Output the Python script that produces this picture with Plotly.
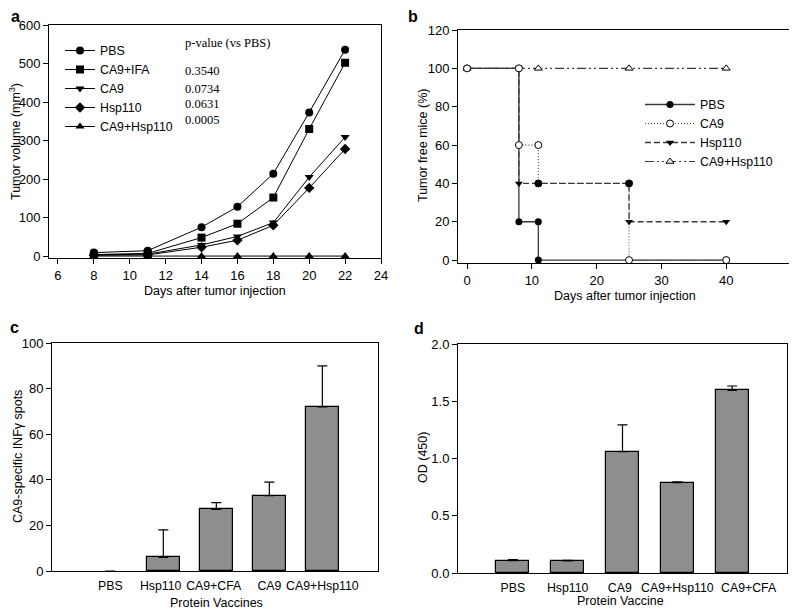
import plotly.graph_objects as go

# ---------- Panel a: tumor volume ----------
days_a = [8, 11, 14, 16, 18, 20, 22]
vol_pbs = [9, 14, 75, 128, 214, 373, 536]
vol_ca9_ifa = [4, 7, 48, 84, 152, 330, 502]
vol_ca9 = [3, 5, 29, 51, 87, 205, 309]
vol_hsp110 = [2, 3, 23, 41, 80, 177, 278]
vol_ca9_hsp110 = [0, 0, 0, 0, 0, 0, 0]
pvalue_labels = ["p-value (vs PBS)", "0.3540", "0.0734", "0.0631", "0.0005"]

# ---------- Panel b: tumor free mice (step curves) ----------
b_pbs_x = [0, 8, 8, 11, 11, 40]
b_pbs_y = [100, 100, 20, 20, 0, 0]
b_ca9_x = [0, 8, 8, 11, 11, 25, 25, 40]
b_ca9_y = [100, 100, 60, 60, 40, 40, 0, 0]
b_hsp_x = [0, 8, 8, 25, 25, 40]
b_hsp_y = [100, 100, 40, 40, 20, 20]
b_combo_x = [0, 11, 25, 40]
b_combo_y = [100, 100, 100, 100]

# ---------- Panel c: ELISPOT ----------
c_cats = ["PBS", "Hsp110", "CA9+CFA", "CA9", "CA9+Hsp110"]
c_vals = [0, 6, 27, 33, 72]
c_err = [None, 12, 3, 6, 18]

# ---------- Panel d: OD ----------
d_cats = ["PBS", "Hsp110", "CA9", "CA9+Hsp110", "CA9+CFA"]
d_vals = [0.108, 0.105, 1.06, 0.789, 1.595]
d_err = [0.008, 0.005, 0.233, 0.006, 0.038]

# page body has an 8px margin; the figure is sized to fill the rest of the window
OFF = 8
W, H = 797 - OFF, 613 - OFF
FONT = "Liberation Sans, Arial, sans-serif"
SERIF = "Liberation Serif, Times New Roman, serif"

def px_x(p):
    return (p - OFF) / W

def px_y(p):
    return 1 - (p - OFF) / H

fig = go.Figure()

# Panel a traces
a_series = [
    ("PBS", vol_pbs, "circle"),
    ("CA9+IFA", vol_ca9_ifa, "square"),
    ("CA9", vol_ca9, "triangle-down"),
    ("Hsp110", vol_hsp110, "diamond"),
    ("CA9+Hsp110", vol_ca9_hsp110, "triangle-up"),
]
for name, ys, sym in a_series:
    fig.add_trace(go.Scatter(
        x=days_a, y=ys, name=name, mode="lines+markers",
        line=dict(color="black", width=1),
        marker=dict(symbol=sym, size=8, color="black"),
        xaxis="x", yaxis="y", legend="legend"))

# Panel b traces
line_gray = "#3a3a3a"
fig.add_trace(go.Scatter(
    x=b_pbs_x, y=b_pbs_y, name="PBS", mode="lines+markers",
    line=dict(color=line_gray, width=1.3),
    marker=dict(symbol="circle", size=7, color="black"),
    xaxis="x2", yaxis="y2", legend="legend2", legendrank=1))
fig.add_trace(go.Scatter(
    x=b_hsp_x, y=b_hsp_y, name="Hsp110", mode="lines+markers",
    line=dict(color=line_gray, width=1.3, dash="6px,3px"),
    marker=dict(symbol="triangle-down", size=7, color="black"),
    xaxis="x2", yaxis="y2", legend="legend2", legendrank=3))
fig.add_trace(go.Scatter(
    x=b_combo_x, y=b_combo_y, name="CA9+Hsp110", mode="lines+markers",
    line=dict(color=line_gray, width=1.2, dash="9px,3px,2px,3px,2px,3px"),
    marker=dict(symbol="triangle-up", size=7, color="white",
                line=dict(color="black", width=1)),
    xaxis="x2", yaxis="y2", legend="legend2", legendrank=4))
ca9_fill = ["white", "white", "white", "white", "black", "black", "white", "white"]
fig.add_trace(go.Scatter(
    x=b_ca9_x, y=b_ca9_y, name="CA9", mode="lines+markers",
    line=dict(color=line_gray, width=1, dash="1px,2px"),
    marker=dict(symbol="circle", size=7, color=ca9_fill,
                line=dict(color="black", width=1)),
    xaxis="x2", yaxis="y2", legend="legend2", legendrank=2))

# Panel c bars
bar_color = "#8e8e8e"
fig.add_trace(go.Bar(
    x=list(range(len(c_cats))), y=c_vals, width=0.62,
    marker=dict(color=bar_color,
                line=dict(color="black", width=[0 if v == 0 else 1.2 for v in c_vals])),
    error_y=dict(type="data", array=c_err, arrayminus=[0] * len(c_err),
                 symmetric=False, color="black", thickness=1.2, width=5),
    xaxis="x3", yaxis="y3", showlegend=False))

# Panel d bars
fig.add_trace(go.Bar(
    x=list(range(len(d_cats))), y=d_vals, width=0.6,
    marker=dict(color=bar_color, line=dict(color="black", width=1.2)),
    error_y=dict(type="data", array=d_err, arrayminus=[0] * len(d_err),
                 symmetric=False, color="black", thickness=1.2, width=5),
    xaxis="x4", yaxis="y4", showlegend=False))

axis_common = dict(showline=True, mirror=True, linecolor="black", linewidth=1,
                   showgrid=False, zeroline=False, ticks="outside", ticklen=5,
                   tickcolor="black", automargin=False,
                   tickfont=dict(size=13, color="black", family=FONT))
cat_axis = {**axis_common, "ticks": "", "ticklen": 0, "tickangle": 0,
            "ticklabelstandoff": 3,
            "tickfont": dict(size=12.3, color="black", family=FONT)}

fig.update_layout(
    width=W, height=H, margin=dict(l=0, r=0, t=0, b=0, pad=0, autoexpand=False),
    paper_bgcolor="white", plot_bgcolor="white",
    font=dict(family=FONT, color="black", size=13),
    bargap=0,
    xaxis=dict(domain=[px_x(49), px_x(381)], range=[5.5, 24], dtick=2, tick0=0,
               anchor="y", **axis_common),
    yaxis=dict(domain=[px_y(258), px_y(25)], range=[-5, 600], dtick=100,
               anchor="x", **axis_common),
    xaxis2=dict(domain=[px_x(458), px_x(791)], range=[-1.4, 50], dtick=10,
                anchor="y2", **axis_common),
    yaxis2=dict(domain=[px_y(263), px_y(30)], range=[-1.5, 120], dtick=20,
                anchor="x2", **axis_common),
    xaxis3=dict(domain=[px_x(52), px_x(378)], range=[-1.1, 5.05],
                tickvals=[0, 0.95, 1.95, 3, 4], ticktext=c_cats,
                anchor="y3", **cat_axis),
    yaxis3=dict(domain=[px_y(571), px_y(343)], range=[0, 100], dtick=20,
                anchor="x3", **axis_common),
    xaxis4=dict(domain=[px_x(458), px_x(787)], range=[-1, 5],
                tickvals=[0, 1, 1.95, 3, 4.3], ticktext=d_cats,
                anchor="y4", **cat_axis),
    yaxis4=dict(domain=[px_y(573), px_y(344)], range=[0, 2], dtick=0.5,
                tickformat=".1f", anchor="x4", **axis_common),
    legend=dict(x=px_x(60), y=px_y(36), xanchor="left", yanchor="top",
                bgcolor="rgba(0,0,0,0)", font=dict(size=12.3, family=FONT),
                itemwidth=30, tracegroupgap=0, traceorder="normal"),
    legend2=dict(x=px_x(640), y=px_y(90), xanchor="left", yanchor="top",
                 bgcolor="rgba(0,0,0,0)", font=dict(size=12.3, family=FONT),
                 itemwidth=50, tracegroupgap=0, traceorder="normal"),
)

annotations = []
# panel letters
for letter, xp, yp in [("a", 15, 17), ("b", 413, 17), ("c", 14, 327), ("d", 419, 328)]:
    annotations.append(dict(text=f"<b>{letter}</b>", x=px_x(xp), y=px_y(yp),
                            xref="paper", yref="paper", showarrow=False,
                            xanchor="center", yanchor="middle",
                            font=dict(size=16, family=FONT)))
# axis titles
axis_titles = [
    ("Days after tumor injection", 215, 291, 0),
    ("Tumor volume (mm<sup>3</sup>)", 15, 142, -90),
    ("Days after tumor injection", 625, 296, 0),
    ("Tumor free mice (%)", 423, 146, -90),
    ("Protein Vaccines", 216, 603, 0),
    ("CA9-specific INFγ spots", 18, 457, -90),
    ("Protein Vaccine", 620, 601, 0),
    ("OD (450)", 423, 458, -90),
]
for txt, xp, yp, ang in axis_titles:
    annotations.append(dict(text=txt, x=px_x(xp), y=px_y(yp), xref="paper", yref="paper",
                            showarrow=False, textangle=ang,
                            xanchor="center", yanchor="middle",
                            font=dict(size=12.5, family=FONT)))
# p-values
pv_y = [43, 71, 89, 104, 120]
for txt, yp in zip(pvalue_labels, pv_y):
    annotations.append(dict(text=txt, x=px_x(183), y=px_y(yp), xref="paper", yref="paper",
                            xanchor="left", yanchor="middle", showarrow=False,
                            font=dict(size=12.5, family=SERIF)))
fig.update_layout(annotations=annotations)

fig.write_html("out.html")
